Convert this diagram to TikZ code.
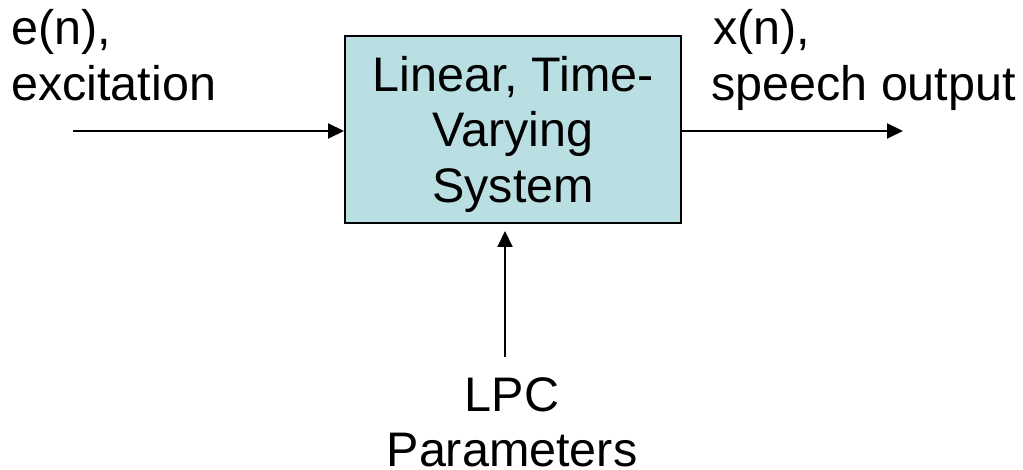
\documentclass[tikz,border=0pt]{standalone}
\usepackage{fontspec}
\setmainfont{Liberation Sans}
\usetikzlibrary{arrows.meta}
\definecolor{boxfill}{RGB}{185,223,227}
\begin{document}
\begin{tikzpicture}[x=1pt,y=1pt,
  lbl/.style={inner sep=0pt,anchor=base,font=\fontsize{48.5}{56}\selectfont},
  lblw/.style={lbl,anchor=base west},
  sysbox/.style={draw=black,line width=2pt,fill=boxfill,minimum width=336pt,minimum height=187pt,inner sep=0pt},
  arr/.style={line width=2pt,-{Triangle[length=16pt,width=15pt]}}]
\useasboundingbox (0,0) rectangle (1023,-470);
\node[sysbox] (sys) at (513,-129.5) {};
\node[lbl] (t1) at (513,-92) {Linear, Time-};
\node[lbl] (t2) at (513,-147) {Varying};
\node[lbl] (t3) at (513,-203) {System};
\node[lblw] (e1) at (11,-45) {e(n),};
\node[lblw] (e2) at (11,-101) {excitation};
\node[lblw] (x1) at (713,-45) {x(n),};
\node[lblw] (x2) at (711,-101) {speech output};
\node[lbl] (l1) at (512,-411) {LPC};
\node[lbl] (l2) at (512,-466) {Parameters};
\coordinate (ein) at (73,-131);
\coordinate (xout) at (903,-131);
\coordinate (lpc) at (505,-357);
\draw[arr] (ein) -- (ein -| sys.west);
\draw[arr] (xout -| sys.east) -- (xout);
\draw[arr,shorten >=7pt] (lpc) -- (lpc |- sys.south);
\end{tikzpicture}
\end{document}
